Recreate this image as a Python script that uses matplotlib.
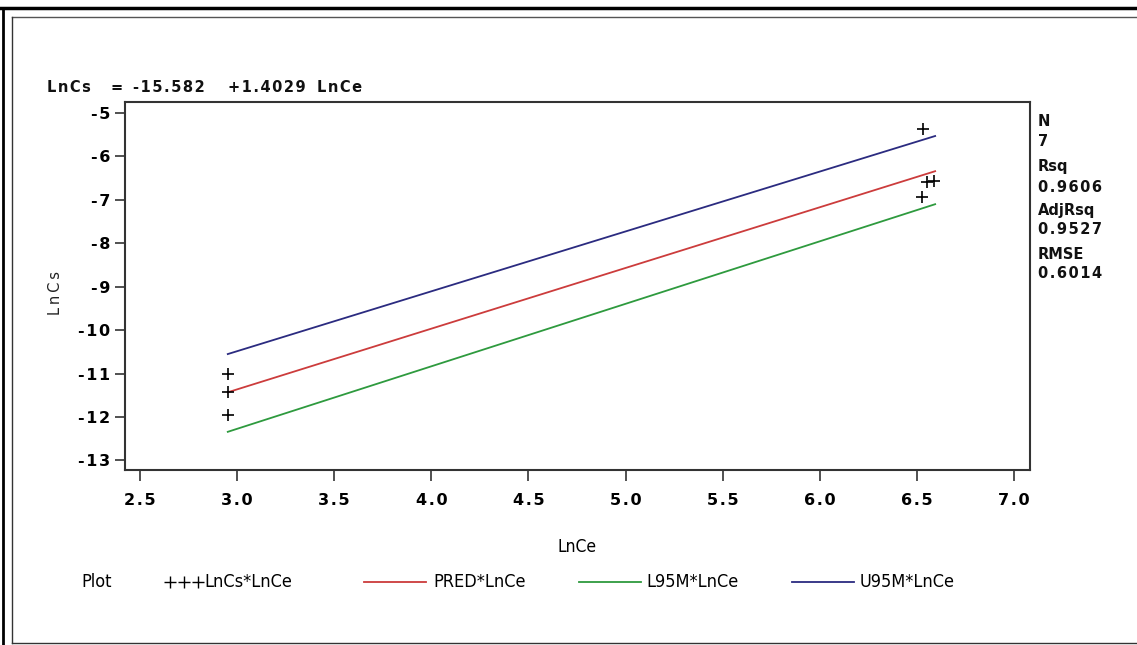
import matplotlib
matplotlib.use("Agg")
import matplotlib.pyplot as plt
from matplotlib.lines import Line2D

# ---- data ----
obs_x = [2.952, 2.952, 2.952, 6.533, 6.551, 6.589, 6.525]
obs_y = [-11.00, -11.42, -11.96, -5.37, -6.58, -6.56, -6.93]
line_x = [2.952, 6.594]
pred_y = [-11.43, -6.34]
l95_y = [-12.34, -7.10]
u95_y = [-10.55, -5.53]
x_ticks = [2.5, 3.0, 3.5, 4.0, 4.5, 5.0, 5.5, 6.0, 6.5, 7.0]
y_ticks = [-5, -6, -7, -8, -9, -10, -11, -12, -13]
eq_parts = ["LnCs", "=", "-15.582", "+1.4029", "LnCe"]
stat_names = ["N", "Rsq", "AdjRsq", "RMSE"]
stat_values = ["7", "0.9606", "0.9527", "0.6014"]
legend_labels = ["LnCs*LnCe", "PRED*LnCe", "L95M*LnCe", "U95M*LnCe"]

RED = "#cc3c3c"
GREEN = "#2e9a3e"
BLUE = "#2b2b80"
FRAME = "#333333"
HS = "\u200a"  # hair space used as letter spacing

W, H = 1137, 645
fig = plt.figure(figsize=(W / 100, H / 100), dpi=100)
fig.patch.set_facecolor("white")


def fx(px):
    return px / W


def fy(py):
    return 1 - py / H


def spaced(s):
    return HS.join(s)


# outer page borders
fig.add_artist(Line2D([0, 1], [fy(8), fy(8)], transform=fig.transFigure, color="black", lw=2.5))
fig.add_artist(Line2D([fx(3), fx(3)], [fy(8), 0], transform=fig.transFigure, color="black", lw=2))
fig.add_artist(Line2D([fx(12), 1], [fy(17), fy(17)], transform=fig.transFigure, color="#555555", lw=1))
fig.add_artist(Line2D([fx(12), fx(12)], [fy(17), fy(643)], transform=fig.transFigure, color="#333333", lw=1))
fig.add_artist(Line2D([fx(12), 1], [fy(643), fy(643)], transform=fig.transFigure, color="#333333", lw=1))

# axes
left, right, top, bottom = 125, 1030, 102, 470
ax = fig.add_axes([fx(left), fy(bottom), fx(right - left), (bottom - top) / H])
ax.set_xlim(2.4228, 7.0824)
ax.set_ylim(-13.219, -4.747)

ax.plot(line_x, pred_y, color=RED, lw=1.3)
ax.plot(line_x, l95_y, color=GREEN, lw=1.3)
ax.plot(line_x, u95_y, color=BLUE, lw=1.3)
ax.scatter(obs_x, obs_y, marker="+", s=80, color="black", linewidths=1.2, zorder=5)

ax.set_xticks(x_ticks)
ax.set_xticklabels([spaced(f"{t:.1f}") for t in x_ticks])
ax.set_yticks(y_ticks)
ax.set_yticklabels([spaced(str(t)) for t in y_ticks])
for sp in ax.spines.values():
    sp.set_color(FRAME)
    sp.set_linewidth(1.5)
ax.tick_params(axis="x", direction="out", length=8, width=1.2, color=FRAME, pad=8.5,
               labelsize=11.5)
ax.tick_params(axis="y", direction="out", length=7, width=1.2, color=FRAME, pad=3.5,
               labelsize=11.5)
for lab in ax.get_xticklabels() + ax.get_yticklabels():
    lab.set_fontweight("bold")

# y label
fig.text(fx(55), fy(293), "\u2009".join("LnCs"), rotation=90, ha="center", va="center",
         fontsize=10.5, color="#222222")

narrow = dict(family="DejaVu Sans", fontstretch="condensed")
# x label
fig.text(fx(577), fy(547), "LnCe", ha="center", va="center", fontsize=12.5,
         color="black", **narrow)

# equation
eq_x = [47, 110, 133, 228, 317]
for part, px in zip(eq_parts, eq_x):
    fig.text(fx(px), fy(88), spaced(part), ha="left", va="center", fontsize=10.5,
             fontweight="bold", color="#111111")

# stats
stat_y = [(122, 142), (167, 187), (210, 229), (254, 274)]
for name, val, (y1, y2) in zip(stat_names, stat_values, stat_y):
    fig.text(fx(1038), fy(y1), name, ha="left", va="center", fontsize=10.5,
             fontweight="bold", color="#111111")
    fig.text(fx(1038), fy(y2), spaced(val), ha="left", va="center", fontsize=10.5,
             fontweight="bold", color="#111111")

# legend row
ly = fy(582)
fig.text(fx(81), ly, "Plot", ha="left", va="center", fontsize=13, **narrow)
for px in (170, 184, 198):
    fig.add_artist(Line2D([fx(px)], [ly], transform=fig.transFigure, marker="+",
                          markersize=8, color="black", mew=1.0, linestyle="none"))
fig.text(fx(204), ly, legend_labels[0], ha="left", va="center", fontsize=13, **narrow)
seg = [(364, 426, RED, 433), (579, 641, GREEN, 646), (792, 854, BLUE, 860)]
for (x0, x1, c, tx), lab in zip(seg, legend_labels[1:]):
    fig.add_artist(Line2D([fx(x0), fx(x1)], [ly, ly], transform=fig.transFigure, color=c, lw=1.3))
    fig.text(fx(tx), ly, lab, ha="left", va="center", fontsize=13, **narrow)

fig.savefig("out.png", dpi=100, facecolor="white")
